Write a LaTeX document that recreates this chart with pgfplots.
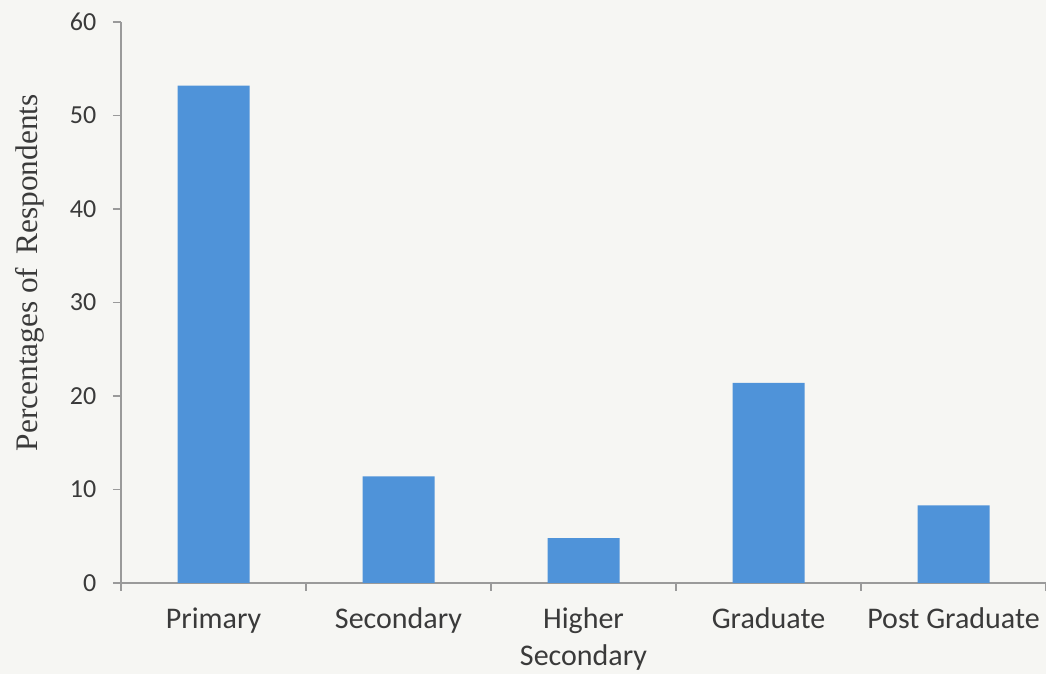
\documentclass[border=0pt]{standalone}
\usepackage{pgfplots}
\pgfplotsset{compat=1.18}
\usepackage{fontspec}
\setmainfont{Carlito}
\newfontfamily\seriffont{Liberation Serif}

\definecolor{paper}{HTML}{F6F6F3}
\definecolor{barblue}{HTML}{4F93D9}
\definecolor{axgray}{HTML}{9A9A9A}
\definecolor{txt}{HTML}{3A3A3A}

\begin{document}
\begin{tikzpicture}
% page: 1046 x 674 units of 0.75pt
\fill[paper] (0,0) rectangle (784.5pt,505.5pt);
\useasboundingbox (0,0) rectangle (784.5pt,505.5pt);
\begin{axis}[
  at={(90.75pt,68.25pt)}, anchor=south west,
  scale only axis, width=693.75pt, height=420.75pt,
  xmin=-0.5, xmax=4.5, ymin=0, ymax=60,
  axis x line*=bottom, axis y line*=left,
  x axis line style={-, draw=axgray, line width=0.8pt},
  y axis line style={-, draw=axgray, line width=0.8pt},
  tick align=outside,
  /pgf/number format/assume math mode=true,
  ytick={0,10,...,60},
  major tick length=6pt, minor tick length=6pt,
  ytick style={draw=axgray, line width=0.8pt},
  xtick={0,1,2,3,4},
  xticklabels={Primary, Secondary, {Higher\\Secondary}, Graduate, {Post Graduate}},
  major x tick style={draw=none},
  minor xtick={-0.5,0.5,1.5,2.5,3.5,4.5},
  minor x tick style={draw=axgray, line width=0.8pt},
  yticklabel style={font=\fontsize{19.5}{22}\selectfont, text=txt, xshift=-9pt},
  xticklabel style={font=\fontsize{22.5}{27.5}\selectfont, text=txt, align=center, anchor=north, yshift=-9pt},
  ylabel={Percentages of\, Respondents},
  ylabel style={font=\seriffont\fontsize{23.5}{26}\selectfont, text=txt,
    at={(axis description cs:-0.098,0.553)}, anchor=center},
  ybar, bar width=54pt, bar shift=0pt,
  axis background/.style={fill=none},
]
\addplot[fill=barblue, draw=none] coordinates {
  (0,53.2) (1,11.4) (2,4.8) (3,21.4) (4,8.3)
};
\end{axis}
\end{tikzpicture}
\end{document}
